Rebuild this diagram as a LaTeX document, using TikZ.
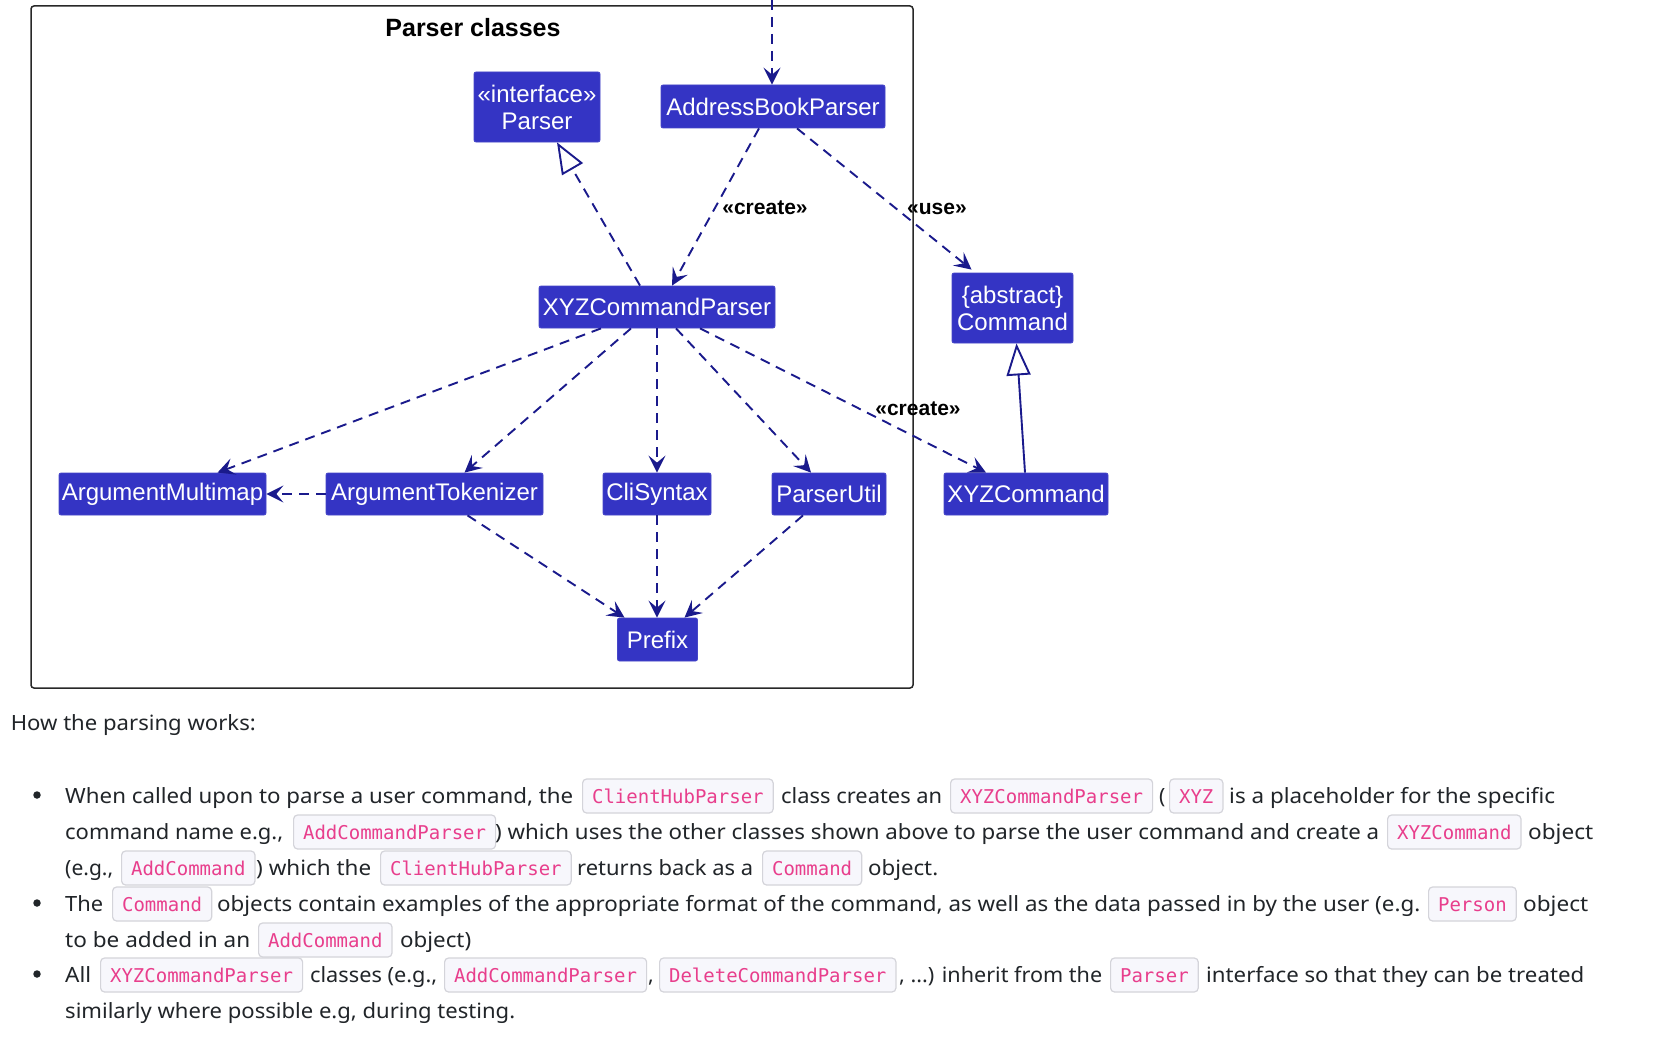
\documentclass[tikz,border=0pt]{standalone}
\usepackage{graphicx}
\usepackage{fontspec}
\setmainfont{Noto Sans}
\newfontfamily\umlfont{Liberation Sans}
\newfontfamily\codefont{DejaVu Sans Mono}
\usetikzlibrary{arrows.meta,calc}
\definecolor{clsfill}{RGB}{52,52,196}
\definecolor{clsedge}{RGB}{70,70,200}
\definecolor{lnk}{RGB}{26,26,140}
\definecolor{codepink}{RGB}{232,62,140}
\definecolor{codebg}{RGB}{247,247,252}
\definecolor{codeborder}{RGB}{212,212,218}
\definecolor{bodytext}{RGB}{33,37,41}
\definecolor{framecol}{RGB}{40,40,40}
\newcommand\fitw[2]{\resizebox{#1pt}{\height}{#2}}
\tikzset{
  cls/.style={draw=clsedge, fill=clsfill, text=white, rounded corners=2pt, inner sep=0pt,
    font=\umlfont\fontsize{24}{27}\selectfont, align=center, line width=0.8pt},
  stereo/.style={font=\umlfont\bfseries\fontsize{21}{24}\selectfont, text=black, inner sep=1pt},
  dep/.style={draw=lnk, line width=1.9pt, dash pattern=on 10pt off 7pt,
    -{Stealth[length=17pt,width=17pt,inset=7pt]}},
  real/.style={draw=lnk, line width=1.9pt, dash pattern=on 10pt off 7pt,
    -{Triangle[open,length=31pt,width=24pt,fill=white]}},
  gen/.style={draw=lnk, line width=1.9pt, -{Triangle[open,length=32pt,width=24pt,fill=white]}},
  txt/.style={anchor=base west, inner sep=0pt, font=\fontsize{21}{25}\selectfont, text=bodytext},
  code/.style={anchor=base west, draw=codeborder, fill=codebg, rounded corners=4pt, text=codepink,
    font=\codefont\fontsize{19}{22}\selectfont, inner xsep=9.5pt, inner ysep=1pt,
    text height=23pt, text depth=9pt, line width=1.2pt},
  bul/.style={circle, fill=bodytext, inner sep=0pt, minimum size=7.5pt}
}
\begin{document}
\begin{tikzpicture}[x=1pt,y=-1pt]
\useasboundingbox (0,0) rectangle (1653,1046);
\fill[white] (0,0) rectangle (1653,1046);

% frame
\draw[framecol, line width=1.5pt, rounded corners=3pt] (31,6) rectangle (913,688);
\node[font=\umlfont\bfseries\fontsize{25}{28}\selectfont, inner sep=0pt] (title) at (473,28) {Parser classes};

% classes
\node[cls, minimum width=126pt, minimum height=70pt] (parser) at (537,107) {«interface»\\Parser};
\node[cls, minimum width=224pt, minimum height=43pt] (abp) at (773,106.5) {AddressBookParser};
\node[cls, minimum width=236pt, minimum height=42pt] (xyzp) at (657,307) {XYZCommandParser};
\node[cls, minimum width=121pt, minimum height=70pt] (cmd) at (1012.5,308) {\{abstract\}\\Command};
\node[cls, minimum width=207pt, minimum height=42pt] (amap) at (162.5,494) {ArgumentMultimap};
\node[cls, minimum width=217pt, minimum height=42pt] (atok) at (434.5,494) {ArgumentTokenizer};
\node[cls, minimum width=108pt, minimum height=42pt] (cli) at (657,494) {CliSyntax};
\node[cls, minimum width=114pt, minimum height=42pt] (putil) at (829,494) {ParserUtil};
\node[cls, minimum width=164pt, minimum height=42pt] (xyzc) at (1026,494) {XYZCommand};
\node[cls, minimum width=80pt, minimum height=43pt] (prefix) at (657.5,639.5) {Prefix};

% connectors
\coordinate (topin) at (772,0);
\draw[dep] (topin) -- ([xshift=-1pt]abp.north);
\draw[real] ([xshift=-17pt]xyzp.north) -- ([xshift=20pt]parser.south);
\draw[dep] ([xshift=-14pt]abp.south) -- ([xshift=15pt]xyzp.north);
\draw[dep] ([xshift=24pt]abp.south) -- ([xshift=-41pt,yshift=3pt]cmd.north);
\draw[dep] ([xshift=-56pt]xyzp.south) -- ([xshift=55pt]amap.north);
\draw[dep] ([xshift=-26pt]xyzp.south) -- ([xshift=30pt]atok.north);
\draw[dep] (xyzp.south) -- (cli.north);
\draw[dep] ([xshift=19pt]xyzp.south) -- ([xshift=-18pt]putil.north);
\draw[dep] ([xshift=43pt]xyzp.south) -- ([xshift=-40pt]xyzc.north);
\draw[dep] (atok.west) -- (amap.east);
\draw[dep] ([xshift=33pt]atok.south) -- ([xshift=-33pt]prefix.north);
\draw[dep] (cli.south) -- (cli.south |- prefix.north);
\draw[dep] ([xshift=-26pt]putil.south) -- ([xshift=27pt]prefix.north);
\draw[gen] ([xshift=-1pt]xyzc.north) -- ([xshift=4pt]cmd.south);

% stereotype labels
\node[stereo] (lcreate1) at (765,208) {«create»};
\node[stereo] (luse) at (937,209) {«use»};
\node[stereo] (lcreate2) at (918,409) {«create»};

% text
\node[txt] (how) at (10.6,730) {\fitw{245}{How the parsing works:}};

\node[bul] (b1) at (37,795) {};
\node[bul] (b2) at (37,903) {};
\node[bul] (b3) at (37,974) {};

% line 1
\node[txt] (l1a) at (65,803) {\fitw{508}{When called upon to parse a user command, the}};
\node[code] (l1b) at (582,803) {ClientHubParser};
\node[txt] (l1c) at (781,803) {\fitw{161}{class creates an}};
\node[code] (l1d) at (950,803) {XYZCommandParser};
\node[txt] (l1e) at (1159,803) {(};
\node[code] (l1f) at (1169,803) {XYZ};
\node[txt] (l1g) at (1229,803) {\fitw{326}{is a placeholder for the specific}};
% line 2
\node[txt] (l2a) at (65,839) {\fitw{218}{command name e.g.,}};
\node[code] (l2b) at (293,839) {AddCommandParser};
\node[txt] (l2c) at (495,839) {\fitw{884}{) which uses the other classes shown above to parse the user command and create a}};
\node[code] (l2d) at (1387,839) {XYZCommand};
\node[txt] (l2e) at (1528,839) {\fitw{65}{object}};
% line 3
\node[txt] (l3a) at (65,875) {\fitw{48}{(e.g.,}};
\node[code] (l3b) at (121,875) {AddCommand};
\node[txt] (l3c) at (256,875) {\fitw{115}{) which the}};
\node[code] (l3d) at (380,875) {ClientHubParser};
\node[txt] (l3e) at (577,875) {\fitw{176}{returns back as a}};
\node[code] (l3f) at (762,875) {Command};
\node[txt] (l3g) at (868,875) {\fitw{70}{object.}};
% line 4
\node[txt] (l4a) at (65,911) {\fitw{38}{The}};
\node[code] (l4b) at (112,911) {Command};
\node[txt] (l4c) at (217,911) {\fitw{1203}{objects contain examples of the appropriate format of the command, as well as the data passed in by the user (e.g.}};
\node[code] (l4d) at (1428,911) {Person};
\node[txt] (l4e) at (1523,911) {\fitw{65}{object}};
% line 5
\node[txt] (l5a) at (65,947) {\fitw{185}{to be added in an}};
\node[code] (l5b) at (258,947) {AddCommand};
\node[txt] (l5c) at (400,947) {\fitw{71}{object)}};
% line 6
\node[txt] (l6a) at (65,982) {\fitw{26}{All}};
\node[code] (l6b) at (100,982) {XYZCommandParser};
\node[txt] (l6c) at (310,982) {\fitw{127}{classes (e.g.,}};
\node[code] (l6d) at (444,982) {AddCommandParser};
\node[txt] (l6e) at (648,982) {,};
\node[code] (l6f) at (659,982) {DeleteCommandParser};
\node[txt] (l6g) at (899,982) {\fitw{203}{, ...) inherit from the}};
\node[code] (l6h) at (1110,982) {Parser};
\node[txt] (l6i) at (1206,982) {\fitw{378}{interface so that they can be treated}};
% line 7
\node[txt] (l7a) at (65,1018) {\fitw{450}{similarly where possible e.g, during testing.}};
\end{tikzpicture}
\end{document}
